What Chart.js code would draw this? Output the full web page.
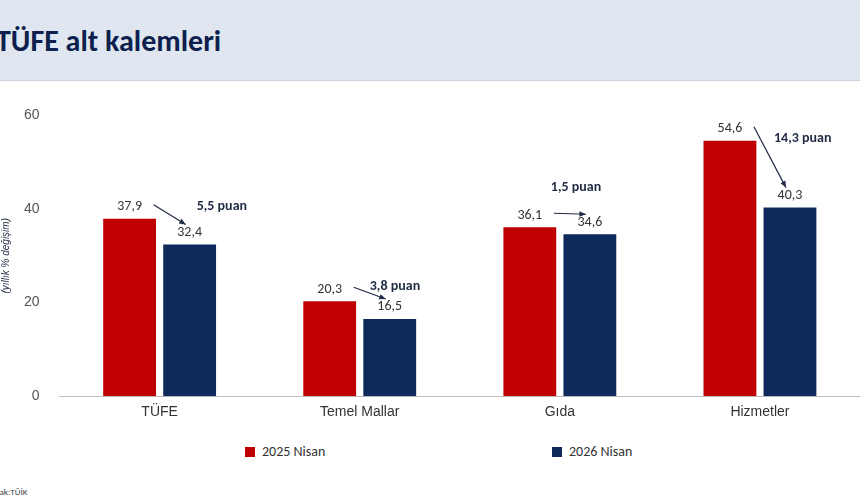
<!DOCTYPE html>
<html><head><meta charset="utf-8">
<script src="https://cdn.jsdelivr.net/npm/chart.js@4/dist/chart.umd.min.js"></script>
<style>
body{margin:0;width:860px;height:504px;overflow:hidden;background:#fff;font-family:Calibri,"Liberation Sans",Arial,sans-serif;position:relative}
#head{position:absolute;left:0;top:0;width:860px;height:80px;background:#dfe6f0;border-bottom:1px solid #c9d3e0}
#head span{position:absolute;left:-4px;top:22px;font-size:30px;font-weight:bold;color:#0d1f4d}
#wrap{position:absolute;left:0;top:95px;width:860px;height:334px}
#legend{position:absolute;top:443px;left:0;width:860px;font-size:14px;color:#333}
.it{position:absolute;display:flex;align-items:center}
.it i{display:inline-block;width:10px;height:10px;margin-right:7px}
#src{position:absolute;left:-18px;top:486px;font-size:9px;color:#444}
</style></head><body>
<div id="head"><span>TÜFE alt kalemleri</span></div>
<div id="wrap"><canvas id="c"></canvas></div>
<div id="legend">
<div class="it" style="left:245px"><i style="background:#c00000"></i>2025 Nisan</div>
<div class="it" style="left:552px"><i style="background:#0e2a5c"></i>2026 Nisan</div>
</div>
<div id="src">Kaynak:TÜİK</div>
<script>
const categories = ['TÜFE', 'Temel Mallar', 'Gıda', 'Hizmetler'];
const nisan2025 = [37.9, 20.3, 36.1, 54.6];
const nisan2026 = [32.4, 16.5, 34.6, 40.3];
const diffLabels = ['5,5 puan', '3,8 puan', '1,5 puan', '14,3 puan'];
const yTicks = [0, 20, 40, 60];

// placement tweaks for the "puan" notes (pixels, relative to navy bar / red label)
const noteDx = [7, -20, -39, -16];
const noteDy = [0, -3, -28, 10];

const labelPlugin = {
  id: 'labels',
  afterDatasetsDraw(chart) {
    const ctx = chart.ctx;
    const m0 = chart.getDatasetMeta(0).data, m1 = chart.getDatasetMeta(1).data;
    const f = 'Calibri, "Liberation Sans", Arial, sans-serif';
    ctx.save();
    ctx.textBaseline = 'bottom';
    m0.forEach((a, i) => {
      const c = m1[i];
      const la = a.y - 5, lc = c.y - 5;
      ctx.fillStyle = '#333';
      ctx.font = '14px ' + f;
      ctx.textAlign = 'center';
      ctx.fillText(nisan2025[i].toFixed(1).replace('.', ','), a.x, la);
      ctx.fillText(nisan2026[i].toFixed(1).replace('.', ','), c.x, lc);
      const x1 = a.x + 24, y1 = la - 9, x2 = c.x - 4, y2 = lc - 15;
      ctx.strokeStyle = '#1f2a44'; ctx.lineWidth = 1.2;
      ctx.beginPath(); ctx.moveTo(x1, y1); ctx.lineTo(x2, y2); ctx.stroke();
      const ang = Math.atan2(y2 - y1, x2 - x1);
      ctx.fillStyle = '#1f2a44';
      ctx.beginPath(); ctx.moveTo(x2, y2);
      ctx.lineTo(x2 - 7 * Math.cos(ang - 0.4), y2 - 7 * Math.sin(ang - 0.4));
      ctx.lineTo(x2 - 7 * Math.cos(ang + 0.4), y2 - 7 * Math.sin(ang + 0.4));
      ctx.fill();
      ctx.font = 'bold 14px ' + f;
      ctx.textAlign = 'left';
      ctx.fillText(diffLabels[i], c.x + noteDx[i], la + noteDy[i]);
    });
    ctx.restore();
  }
};

new Chart(document.getElementById('c'), {
  type: 'bar',
  data: {
    labels: categories,
    datasets: [
      { label: '2025 Nisan', data: nisan2025, backgroundColor: '#c00000', barPercentage: 0.88, categoryPercentage: 0.6 },
      { label: '2026 Nisan', data: nisan2026, backgroundColor: '#0e2a5c', barPercentage: 0.88, categoryPercentage: 0.6 }
    ]
  },
  options: {
    responsive: true, maintainAspectRatio: false, animation: false,
    layout: { padding: { top: 16, right: 0, left: 0, bottom: 0 } },
    plugins: { legend: { display: false }, tooltip: { enabled: false } },
    scales: {
      x: {
        grid: { display: false, drawTicks: false },
        border: { color: '#bfbfbf' },
        ticks: { color: '#333', font: { size: 14 }, padding: 8 }
      },
      y: {
        min: 0, max: 60,
        afterBuildTicks: s => { s.ticks = yTicks.map(v => ({ value: v })); },
        grid: { display: false },
        border: { display: false },
        ticks: { color: '#555', font: { size: 14 }, padding: 12 },
        title: { display: true, text: '(yıllık % değişim)', color: '#1f2a44', font: { size: 10, style: 'italic' }, padding: 0 }
      }
    }
  },
  plugins: [labelPlugin]
});
</script>
</body></html>
